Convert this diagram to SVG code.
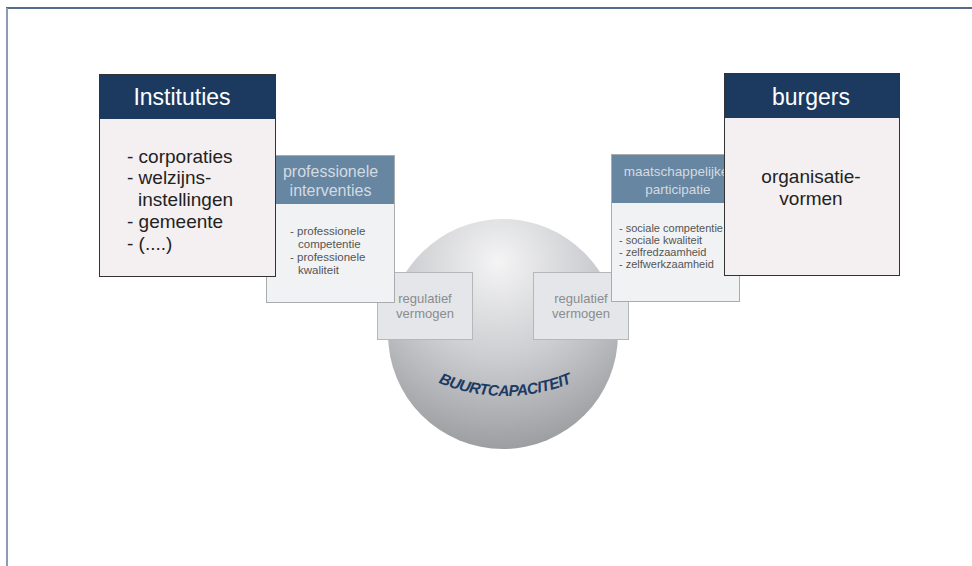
<svg xmlns="http://www.w3.org/2000/svg" width="972" height="566" viewBox="0 0 972 566">
<defs>
<style>
.hd{fill:#1c3a60}
.bd{fill:#f4f0f1;stroke:#333;stroke-width:1}
.sub{fill:#f1f2f4;stroke:#a9abae;stroke-width:1}
.subhd{fill:#6686a2}
.reg{fill:#e4e6e9;stroke:#b5b7ba;stroke-width:1}
text{font-family:"Liberation Sans",Arial,sans-serif}
.ht{fill:#ffffff;font-size:23px;text-anchor:middle}
.bt{fill:#222;font-size:19px}
.st{fill:#d4dae1;font-size:16px;text-anchor:middle}
.lt{fill:#555;font-size:11.5px}
.rt{fill:#555;font-size:11px}
.gt{fill:#8a8c8f;font-size:13px;text-anchor:middle}
</style>
<radialGradient id="sph" gradientUnits="userSpaceOnUse" cx="498" cy="268" r="205" fx="498" fy="262">
<stop offset="0" stop-color="#f4f4f5"/>
<stop offset="0.45" stop-color="#cdced1"/>
<stop offset="1" stop-color="#8f9195"/>
</radialGradient>
<path id="arc" d="M 405,364.4 A 174 174 0 0 0 605,364.4" fill="none"/>
</defs>
<rect x="0" y="0" width="972" height="566" fill="#ffffff"/>
<g id="frame">
<line x1="6" y1="8" x2="972" y2="8" stroke="#1c3a60" stroke-width="1.6"/>
<line x1="7" y1="8" x2="7" y2="566" stroke="#8c9bb8" stroke-width="2"/>
</g>
<g id="connectors"/>
<g id="buurtcapaciteit">
<circle cx="503" cy="334" r="115" fill="url(#sph)"/>
<text font-size="15.5" font-weight="bold" font-style="italic" fill="#1c3a64" letter-spacing="-0.6"><textPath href="#arc" startOffset="50%" text-anchor="middle">BUURTCAPACITEIT</textPath></text>
</g>
<g id="regulatief-links">
<rect class="reg" x="377.5" y="272.5" width="95" height="67"/>
<text class="gt" x="425" y="303">regulatief</text>
<text class="gt" x="425" y="318">vermogen</text>
</g>
<g id="regulatief-rechts">
<rect class="reg" x="533.5" y="272.5" width="95" height="67"/>
<text class="gt" x="581" y="303">regulatief</text>
<text class="gt" x="581" y="318">vermogen</text>
</g>
<g id="professionele-interventies">
<rect class="sub" x="266.5" y="155.5" width="128" height="147"/>
<rect class="subhd" x="267" y="156" width="127" height="48"/>
<text class="st" x="330.5" y="177">professionele</text>
<text class="st" x="330.5" y="196">interventies</text>
<text class="lt" x="290" y="235">- professionele</text>
<text class="lt" x="298" y="248">competentie</text>
<text class="lt" x="290" y="261">- professionele</text>
<text class="lt" x="298" y="274">kwaliteit</text>
</g>
<g id="maatschappelijke-participatie">
<rect class="sub" x="611.5" y="154.5" width="128" height="147"/>
<rect class="subhd" x="612" y="155" width="127" height="48"/>
<text class="st" x="676" y="176" style="font-size:13.5px">maatschappelijke</text>
<text class="st" x="678" y="194" style="font-size:13.5px">participatie</text>
<text class="rt" x="619" y="232">- sociale competentie</text>
<text class="rt" x="619" y="244">- sociale kwaliteit</text>
<text class="rt" x="619" y="256">- zelfredzaamheid</text>
<text class="rt" x="619" y="268">- zelfwerkzaamheid</text>
</g>
<g id="instituties">
<rect class="bd" x="99.5" y="74.5" width="176" height="202"/>
<rect class="hd" x="100" y="75" width="175" height="44"/>
<text class="ht" x="182" y="105">Instituties</text>
<text class="bt" x="127" y="163">- corporaties</text>
<text class="bt" x="127" y="184">- welzijns-</text>
<text class="bt" x="138" y="206">instellingen</text>
<text class="bt" x="127" y="228">- gemeente</text>
<text class="bt" x="127" y="250">- (....)</text>
</g>
<g id="burgers">
<rect class="bd" x="724.5" y="73.5" width="175" height="202"/>
<rect class="hd" x="725" y="74" width="174" height="44"/>
<text class="ht" x="811" y="105">burgers</text>
<text class="bt" x="811" y="183" text-anchor="middle">organisatie-</text>
<text class="bt" x="811" y="205" text-anchor="middle">vormen</text>
</g>
</svg>
